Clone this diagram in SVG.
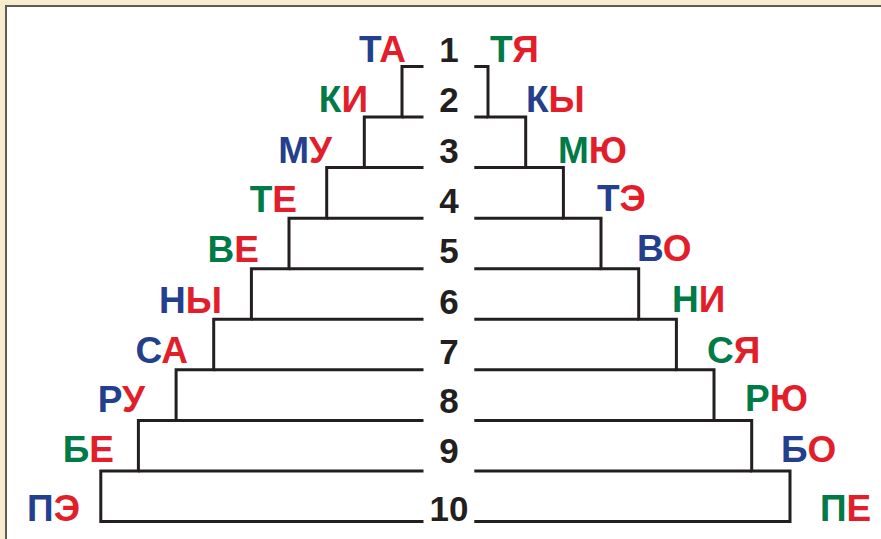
<svg xmlns="http://www.w3.org/2000/svg" width="881" height="539" viewBox="0 0 881 539">
<style>
.ln{fill:none;stroke:#231f20;stroke-width:3;stroke-linejoin:miter;stroke-linecap:butt}
.num{font-family:"Liberation Sans",Arial,sans-serif;font-weight:bold;font-size:35px;fill:#231f20;text-anchor:middle}
.lb{font-family:"Liberation Sans",Arial,sans-serif;font-weight:bold;font-size:37px}
.l{text-anchor:end}
.b{fill:#253f8f}
.r{fill:#e31e2b}
.g{fill:#007a47}
</style>
<rect x="0" y="0" width="881" height="539" fill="#f6edcf"/>
<rect x="5" y="5" width="876" height="534" fill="#5e5954"/>
<rect x="7" y="7" width="874" height="532" fill="#ffffff"/>
<g id="connectors">
<path class="ln" d="M423.5,66.5H402V117H364.3V167.6H326.7V218.2H289V268.7H251.4V319.3H213.7V369.8H176.1V420.4H138.4V470.9H100.8V521.5H423.5"/>
<path class="ln" d="M402,117H423.5M364.3,167.6H423.5M326.7,218.2H423.5M289,268.7H423.5M251.4,319.3H423.5M213.7,369.8H423.5M176.1,420.4H423.5M138.4,470.9H423.5"/>
<path class="ln" d="M474.3,66.5H488V117H525.7V167.6H563.4V218.2H601V268.7H638.7V319.3H676.4V369.8H714V420.4H751.7V470.9H790V521.5H474.3"/>
<path class="ln" d="M488,117H474.3M525.7,167.6H474.3M563.4,218.2H474.3M601,268.7H474.3M638.7,319.3H474.3M676.4,369.8H474.3M714,420.4H474.3M751.7,470.9H474.3"/>
</g>
<g id="numbers">
<text class="num" x="449" y="62">1</text>
<text class="num" x="449" y="112">2</text>
<text class="num" x="449" y="162.5">3</text>
<text class="num" x="449" y="212.5">4</text>
<text class="num" x="449" y="263">5</text>
<text class="num" x="449" y="313.5">6</text>
<text class="num" x="449" y="363.5">7</text>
<text class="num" x="449" y="413">8</text>
<text class="num" x="449" y="462.5">9</text>
<text class="num" x="449" y="521">10</text>
</g>
<g id="row1"><text class="lb l" x="406" y="62"><tspan class="b">Т</tspan><tspan class="r">А</tspan></text><text class="lb" x="490" y="62"><tspan class="g">Т</tspan><tspan class="r">Я</tspan></text></g>
<g id="row2"><text class="lb l" x="368" y="112"><tspan class="g">К</tspan><tspan class="r">И</tspan></text><text class="lb" x="526" y="112"><tspan class="b">К</tspan><tspan class="r">Ы</tspan></text></g>
<g id="row3"><text class="lb l" x="332" y="162.5"><tspan class="b">М</tspan><tspan class="r">У</tspan></text><text class="lb" x="558" y="162.5"><tspan class="g">М</tspan><tspan class="r">Ю</tspan></text></g>
<g id="row4"><text class="lb l" x="297" y="212"><tspan class="g">Т</tspan><tspan class="r">Е</tspan></text><text class="lb" x="597" y="211"><tspan class="b">Т</tspan><tspan class="r">Э</tspan></text></g>
<g id="row5"><text class="lb l" x="259" y="262"><tspan class="g">В</tspan><tspan class="r">Е</tspan></text><text class="lb" x="637" y="261"><tspan class="b">В</tspan><tspan class="r">О</tspan></text></g>
<g id="row6"><text class="lb l" x="222" y="313"><tspan class="b">Н</tspan><tspan class="r">Ы</tspan></text><text class="lb" x="672" y="312"><tspan class="g">Н</tspan><tspan class="r">И</tspan></text></g>
<g id="row7"><text class="lb l" x="188" y="363"><tspan class="b">С</tspan><tspan class="r">А</tspan></text><text class="lb" x="707" y="362.5"><tspan class="g">С</tspan><tspan class="r">Я</tspan></text></g>
<g id="row8"><text class="lb l" x="145" y="412"><tspan class="b">Р</tspan><tspan class="r">У</tspan></text><text class="lb" x="745" y="411"><tspan class="g">Р</tspan><tspan class="r">Ю</tspan></text></g>
<g id="row9"><text class="lb l" x="114" y="462"><tspan class="g">Б</tspan><tspan class="r">Е</tspan></text><text class="lb" x="781" y="462"><tspan class="b">Б</tspan><tspan class="r">О</tspan></text></g>
<g id="row10"><text class="lb l" x="80" y="521"><tspan class="b">П</tspan><tspan class="r">Э</tspan></text><text class="lb" x="820" y="521"><tspan class="g">П</tspan><tspan class="r">Е</tspan></text></g>
</svg>
